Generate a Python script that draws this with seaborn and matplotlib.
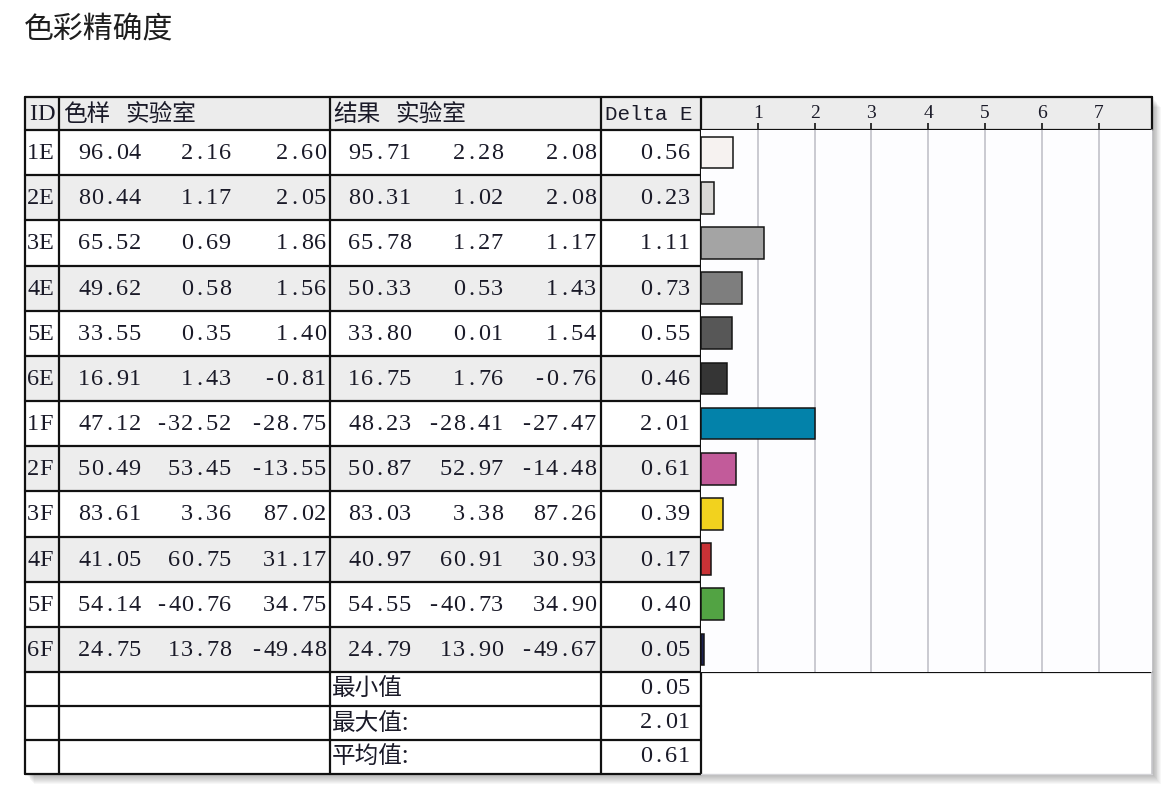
import numpy as np
import pandas as pd
import seaborn as sns
import matplotlib.pyplot as plt
from matplotlib.patches import Rectangle

sns.set_style("white")
plt.rcParams["font.family"] = ["Liberation Serif", "Noto Sans CJK SC", "DejaVu Sans"]

# ---- data ----
title = "色彩精确度"
ids = ["1E", "2E", "3E", "4E", "5E", "6E", "1F", "2F", "3F", "4F", "5F", "6F"]
ref_L = [96.04, 80.44, 65.52, 49.62, 33.55, 16.91, 47.12, 50.49, 83.61, 41.05, 54.14, 24.75]
ref_a = [2.16, 1.17, 0.69, 0.58, 0.35, 1.43, -32.52, 53.45, 3.36, 60.75, -40.76, 13.78]
ref_b = [2.60, 2.05, 1.86, 1.56, 1.40, -0.81, -28.75, -13.55, 87.02, 31.17, 34.75, -49.48]
res_L = [95.71, 80.31, 65.78, 50.33, 33.80, 16.75, 48.23, 50.87, 83.03, 40.97, 54.55, 24.79]
res_a = [2.28, 1.02, 1.27, 0.53, 0.01, 1.76, -28.41, 52.97, 3.38, 60.91, -40.73, 13.90]
res_b = [2.08, 2.08, 1.17, 1.43, 1.54, -0.76, -27.47, -14.48, 87.26, 30.93, 34.90, -49.67]
delta_e = [0.56, 0.23, 1.11, 0.73, 0.55, 0.46, 2.01, 0.61, 0.39, 0.17, 0.40, 0.05]
bar_colors = ["#f6f2f0", "#d9d7d5", "#a4a4a4", "#7e7e7e", "#575757", "#353535",
              "#0382aa", "#c25b9a", "#f2d21e", "#c93236", "#52a343", "#1b2152"]
header_labels = ["ID", "色样 实验室", "结果 实验室", "Delta E"]
summary_labels = ["最小值", "最大值:", "平均值:"]
summary_values = [0.05, 2.01, 0.61]
axis_ticks = [1, 2, 3, 4, 5, 6, 7]

df = pd.DataFrame({"id": ids, "de": delta_e})

# ---- layout (pixels) ----
W, H = 1176, 796
fig = plt.figure(figsize=(W / 100, H / 100), dpi=100)
ax = fig.add_axes([0, 0, 1, 1])
ax.set_xlim(0, W)
ax.set_ylim(H, 0)
ax.axis("off")

x0, x1 = 25, 1152
col_x = [25, 59, 330, 601, 701]
y_top, y_head = 97, 130
row_h = (672 - 130) / 12
y_body_end = 672
sum_h = 34
y_bottom = y_body_end + 3 * sum_h

tc = "#1a1a28"
num_fs = 17.5
pitch = 12.65
cjk = ["Noto Sans CJK SC", "DejaVu Sans"]


def mono(x, y, s, align="right", fs=num_fs):
    # fixed-pitch layout like the SimSun half-width digits in the original
    n = len(s)
    start = x - n * pitch if align == "right" else x
    for k, ch in enumerate(s):
        if ch == " ":
            continue
        ax.text(start + (k + 0.5) * pitch, y, ch, fontsize=fs, color=tc,
                ha="center", va="center", zorder=4)


# drop shadow
for k in range(1, 11):
    ax.add_patch(Rectangle((x0 + k * 0.9, y_top + k), x1 - x0, y_bottom - y_top,
                           facecolor="black", alpha=0.032, lw=0, zorder=0))
ax.add_patch(Rectangle((x0, y_top), x1 - x0, y_bottom - y_top,
                       facecolor="white", lw=0, zorder=1))

# header band
ax.add_patch(Rectangle((x0, y_top), x1 - x0, y_head - y_top,
                       facecolor="#ececec", lw=0, zorder=1))
# alternating rows
for i in range(len(ids)):
    if i % 2 == 1:
        ax.add_patch(Rectangle((x0, y_head + i * row_h), col_x[-1] - x0, row_h,
                               facecolor="#ededed", lw=0, zorder=1))

lc = "#111111"
for cx in col_x:
    ax.plot([cx, cx], [y_top, y_bottom], color=lc, lw=1.6, zorder=3)
ax.plot([x0, x1], [y_top, y_top], color=lc, lw=1.6, zorder=3)
ax.plot([x0, x1], [y_head, y_head], color=lc, lw=1.6, zorder=3)
for i in range(1, len(ids)):
    y = y_head + i * row_h
    ax.plot([x0, col_x[-1]], [y, y], color=lc, lw=1.6, zorder=3)
ax.plot([x0, x1], [y_body_end, y_body_end], color=lc, lw=1.6, zorder=3)
for j in range(1, 4):
    y = y_body_end + j * sum_h
    ax.plot([x0, col_x[-1]], [y, y], color=lc, lw=1.6, zorder=3)
ax.plot([x1, x1], [y_top, y_head], color=lc, lw=1.6, zorder=3)
ax.plot([x1, x1], [y_head, y_bottom], color="#c8c8cc", lw=1.2, zorder=3)
ax.plot([col_x[-1], x1], [y_bottom, y_bottom], color="#d4d4d8", lw=1.0, zorder=3)

# title
ax.text(24, 29, title, fontsize=21.5, family=["Noto Sans CJK SC"], color="#1e1e1e",
        va="center", ha="left")

# header texts
yh = (y_top + y_head) / 2 + 1
mono(27, yh, header_labels[0], align="left")
for xl, lab in ((63, header_labels[1]), (333, header_labels[2])):
    first, second = lab.split(" ")
    ax.text(xl, yh, first, fontsize=17, family=cjk, color=tc, va="center", ha="left")
    ax.text(xl + 62, yh, second, fontsize=17, family=cjk, color=tc, va="center", ha="left")
ax.text(605, yh, header_labels[3], fontsize=15, family=["Liberation Mono"], color=tc,
        va="center", ha="left")

# body texts
ref_right = [141, 231, 326]
res_right = [411, 503, 596]
for i, rid in enumerate(ids):
    yc = y_head + (i + 0.5) * row_h + 1
    mono(27, yc, rid, align="left")
    for xr, v in zip(ref_right, (ref_L[i], ref_a[i], ref_b[i])):
        mono(xr, yc, f"{v:.2f}")
    for xr, v in zip(res_right, (res_L[i], res_a[i], res_b[i])):
        mono(xr, yc, f"{v:.2f}")
    mono(690, yc, f"{delta_e[i]:.2f}")

# summary rows
for j, (lab, v) in enumerate(zip(summary_labels, summary_values)):
    yc = y_body_end + (j + 0.5) * sum_h
    ax.text(332, yc, lab, fontsize=17, family=cjk, color=tc, va="center", ha="left")
    mono(690, yc, f"{v:.2f}")

# ---- bar chart ----
px = 56.8
bx = fig.add_axes([col_x[-1] / W, (H - y_body_end) / H,
                   (x1 - col_x[-1]) / W, (y_body_end - y_head) / H])
bx.set_zorder(5)
bx.set_facecolor("#fdfdff")
sns.barplot(data=df, x="de", y="id", hue="id", palette=bar_colors, legend=False,
            orient="h", width=0.7, saturation=1, edgecolor="#151515", linewidth=1.1, ax=bx)
bx.set_xlim(0, (x1 - col_x[-1]) / px)
bx.set_ylim(len(ids) - 0.5, -0.5)
bx.set_xticks(axis_ticks)
bx.xaxis.tick_top()
bx.tick_params(axis="x", top=True, bottom=False, direction="out", length=5,
               width=1.3, color="#222222", pad=0.5, labelsize=14, labelcolor=tc)
bx.set_yticks([])
bx.set_xlabel("")
bx.set_ylabel("")
bx.grid(axis="x", color="#c2c2ca", lw=1.2)
bx.set_axisbelow(True)
for s in bx.spines.values():
    s.set_visible(False)

fig.savefig("out.png", dpi=100)
